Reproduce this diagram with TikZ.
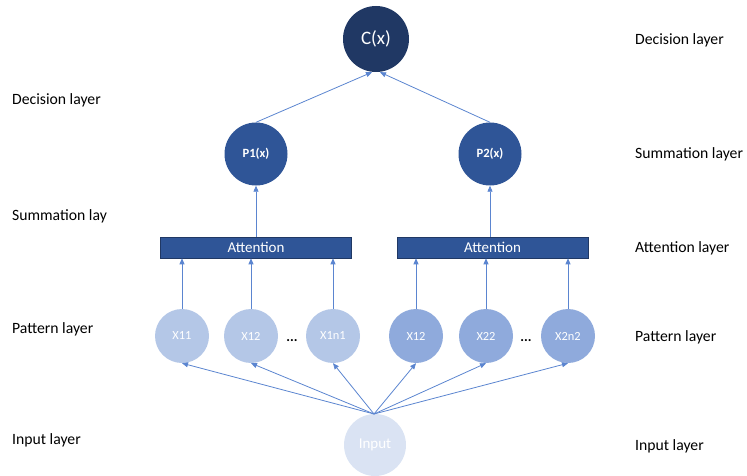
\documentclass[tikz,border=0pt]{standalone}
\usepackage{fontspec}
\setmainfont{Carlito}
\usetikzlibrary{arrows.meta}
\definecolor{navy}{HTML}{203864}
\definecolor{midblue}{HTML}{2F5597}
\definecolor{patA}{HTML}{B4C7E7}
\definecolor{patB}{HTML}{8FAADC}
\definecolor{inpc}{HTML}{DAE3F3}
\definecolor{wire}{HTML}{5B85D0}
\begin{document}
\begin{tikzpicture}[x=1pt,y=-1pt,
  neuron/.style={circle,inner sep=0pt,text=white},
  topnode/.style={neuron,fill=navy,minimum size=66pt,font=\fontsize{19}{22}\selectfont},
  sumnode/.style={neuron,fill=midblue,minimum size=63pt,font=\fontsize{12.6}{15}\selectfont\bfseries},
  pnodeA/.style={neuron,fill=patA,minimum size=54pt,font=\fontsize{12.4}{15}\selectfont},
  pnodeB/.style={neuron,fill=patB,minimum size=54pt,font=\fontsize{12.4}{15}\selectfont},
  inode/.style={neuron,fill=inpc,minimum size=62pt,font=\fontsize{15}{18}\selectfont},
  attbox/.style={rectangle,fill=midblue,draw=navy,line width=0.6pt,text=white,
    minimum width=191pt,minimum height=21pt,inner sep=0pt,font=\fontsize{15}{18}\selectfont},
  layerlabel/.style={anchor=west,inner sep=0pt,font=\fontsize{15.7}{18}\selectfont},
  dots/.style={inner sep=0pt,font=\fontsize{14}{16}\selectfont\bfseries},
  link/.style={draw=wire,line width=0.8pt,-{Triangle[length=6pt,width=5pt]}}
]
\useasboundingbox (0,0) rectangle (747,476);

% network nodes
\node[topnode] (C) at (376,39) {C(x)};
\node[sumnode] (P1) at (256,154) {P1(x)};
\node[sumnode] (P2) at (490,154) {P2(x)};
\node[attbox] (A1) at (256,247.5) {Attention};
\node[attbox] (A2) at (492.5,247.5) {Attention};

\node[pnodeA] (X11) at (182,336) {X11};
\node[pnodeA] (X12) at (251,336) {X12};
\node[pnodeA] (X1n) at (333,336) {X1n1};
\node[dots] (D1) at (292,341) {...};
\node[pnodeB] (Y12) at (416,336) {X12};
\node[pnodeB] (Y22) at (486,336) {X22};
\node[pnodeB] (Y2n) at (568,336) {X2n2};
\node[dots] (D2) at (526,341) {...};

\node[inode] (IN) at (375,445) {Input};
\coordinate (INt) at (374,414);

% input to pattern layer
\foreach \t in {X11,X12,X1n,Y12,Y22,Y2n}
  \draw[link] (INt) -- (\t.south);

% pattern layer to attention blocks
\draw[link] (X11.north) -- (X11.north |- A1.south);
\draw[link] (X12.north) -- (X12.north |- A1.south);
\draw[link] (X1n.north) -- (X1n.north |- A1.south);
\draw[link] (Y12.north) -- (Y12.north |- A2.south);
\draw[link] (Y22.north) -- (Y22.north |- A2.south);
\draw[link] (Y2n.north) -- (Y2n.north |- A2.south);

% attention to summation
\draw[link] (A1.north -| P1) -- (P1.south);
\draw[link] (A2.north -| P2) -- (P2.south);

% summation to decision
\draw[link] (P1.north) -- ([xshift=-4pt]C.south);
\draw[link] (P2.north) -- ([xshift=4pt]C.south);

% layer captions
\node[layerlabel] (L1) at (12,100) {Decision layer};
\node[layerlabel] (L2) at (12,216) {Summation lay};
\node[layerlabel] (L3) at (12,329) {Pattern layer};
\node[layerlabel] (L4) at (12,440) {Input layer};
\node[layerlabel] (R1) at (635,40) {Decision layer};
\node[layerlabel] (R2) at (635,154) {Summation layer};
\node[layerlabel] (R3) at (635,248) {Attention layer};
\node[layerlabel] (R4) at (635,337) {Pattern layer};
\node[layerlabel] (R5) at (635,446) {Input layer};
\end{tikzpicture}
\end{document}
